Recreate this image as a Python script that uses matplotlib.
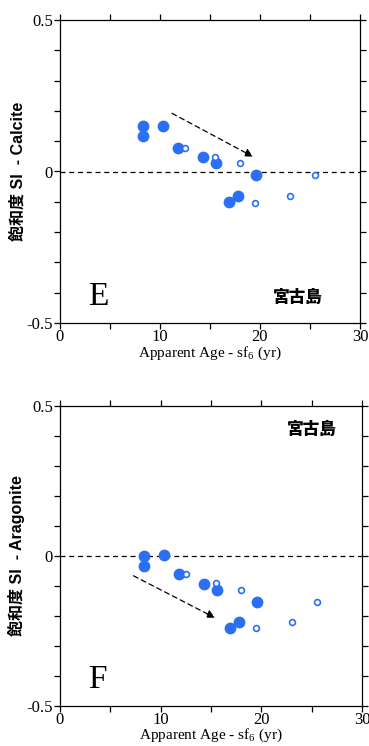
import matplotlib
matplotlib.use("Agg")
import matplotlib.pyplot as plt
from matplotlib.ticker import MultipleLocator, FuncFormatter

# apparent SF6 age (yr) of the wells, same for both panels
age_big = [8.3, 8.3, 10.3, 11.8, 14.3, 15.6, 19.6, 16.9, 17.8]
age_small = [12.5, 15.5, 18.0, 25.5, 19.5, 23.0]

# saturation index, calcite
si_cal_big = [0.150, 0.118, 0.150, 0.079, 0.048, 0.027, -0.012, -0.102, -0.082]
si_cal_small = [0.079, 0.049, 0.028, -0.012, -0.103, -0.082]

# saturation index, aragonite
si_ara_big = [0.0, -0.032, 0.004, -0.061, -0.092, -0.112, -0.152, -0.241, -0.221]
si_ara_small = [-0.061, -0.091, -0.112, -0.152, -0.241, -0.221]

# trend arrows (start, end)
arrow_cal = ((11.2, 0.192), (19.3, 0.049))
arrow_ara = ((7.3, -0.066), (15.4, -0.206))

blue = "#2b6ff5"
serif = "Liberation Serif"
cjk = ["Liberation Sans", "Noto Sans CJK JP"]

plt.rcParams["mathtext.fontset"] = "custom"
plt.rcParams["mathtext.rm"] = serif
plt.rcParams["mathtext.it"] = serif

fig = plt.figure(figsize=(3.69, 7.46), dpi=100)
ax1 = fig.add_axes([60 / 369, 1 - 323 / 746, 300 / 369, 303 / 746])
ax2 = fig.add_axes([60 / 369, 1 - 706 / 746, 302 / 369, 300 / 746])


def fmt_x(v, pos):
    return "%d" % v if abs(v % 10) < 1e-6 else ""


def fmt_y(v, pos):
    if abs(v) < 1e-6:
        return "0"
    if abs(abs(v) - 0.5) < 1e-6:
        return "%.1f" % v
    return ""


def panel(ax, si_big, si_small, arrow, ylab, letter, isl_xy, xpad):
    ax.set_xlim(0, 30)
    ax.set_ylim(-0.5, 0.5)
    ax.axhline(0, color="black", lw=0.9, ls=(0, (4, 3)), zorder=1)
    ax.plot(age_big, si_big, "o", color=blue, ms=8.5, mew=0, zorder=3)
    ax.plot(age_small, si_small, "o", mfc="white", mec=blue, ms=4.2, mew=1.2, zorder=3)
    ax.annotate("", xy=arrow[1], xytext=arrow[0],
                arrowprops=dict(arrowstyle="-|>", color="black", lw=0.9,
                                ls=(0, (4, 3)), mutation_scale=12,
                                shrinkA=0, shrinkB=0))
    ax.xaxis.set_major_locator(MultipleLocator(5))
    ax.yaxis.set_major_locator(MultipleLocator(0.1))
    ax.xaxis.set_major_formatter(FuncFormatter(fmt_x))
    ax.yaxis.set_major_formatter(FuncFormatter(fmt_y))
    ax.tick_params(direction="out", length=4, width=0.9, top=True, right=True,
                   labelsize=12, pad=1)
    ax.tick_params(axis="x", pad=0)
    for lab in ax.get_xticklabels() + ax.get_yticklabels():
        lab.set_family(serif)
    for s in ax.spines.values():
        s.set_linewidth(0.9)
    ax.set_xlabel("Apparent Age - sf$_6$ (yr)", family=serif, fontsize=11, labelpad=xpad)
    ax.set_ylabel(ylab, family=cjk, fontsize=11.5, fontweight="bold")
    ax.yaxis.set_label_coords(-0.115, 0.5)
    ax.text(2.8, -0.44, letter, family=serif, fontsize=24)
    ax.text(isl_xy[0], isl_xy[1], "宮古島", family="Noto Sans CJK JP", fontsize=12,
            fontweight=900, ha="center", va="center")


panel(ax1, si_cal_big, si_cal_small, arrow_cal, "飽和度 SI  - Calcite", "E", (23.8, -0.415), 0)
panel(ax2, si_ara_big, si_ara_small, arrow_ara, "飽和度 SI  - Aragonite", "F", (25.0, 0.423), -1)

fig.savefig("out.png", dpi=100)
